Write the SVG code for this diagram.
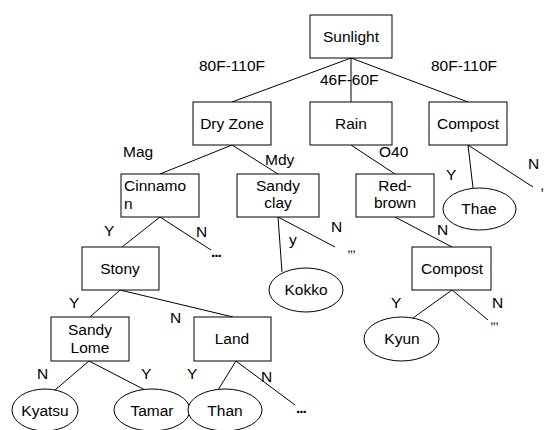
<svg xmlns="http://www.w3.org/2000/svg" width="546" height="430" viewBox="0 0 546 430">
<style>
.b{fill:#fff;stroke:#000;stroke-width:1}
.l{stroke:#000;stroke-width:1;fill:none}
text{font-family:"Liberation Sans",Arial,sans-serif;font-size:15.5px;fill:#000}
.c{text-anchor:middle}
.d{letter-spacing:-1px;font-weight:bold}
.k{letter-spacing:-1px;font-size:13px}
</style>
<rect width="546" height="430" fill="#fff"/>
<g id="connectors">
<line class="l" x1="351" y1="58" x2="232" y2="102"/>
<line class="l" x1="351" y1="58" x2="351" y2="102"/>
<line class="l" x1="351" y1="58" x2="468" y2="102"/>
<line class="l" x1="232" y1="145" x2="160" y2="174"/>
<line class="l" x1="232" y1="145" x2="278" y2="174"/>
<line class="l" x1="351" y1="145" x2="395" y2="174"/>
<line class="l" x1="468" y1="145" x2="473" y2="188"/>
<line class="l" x1="468" y1="145" x2="533" y2="187"/>
<line class="l" x1="160" y1="217" x2="122" y2="247"/>
<line class="l" x1="160" y1="217" x2="211" y2="250"/>
<line class="l" x1="278" y1="217" x2="282" y2="272"/>
<line class="l" x1="278" y1="217" x2="335" y2="247"/>
<line class="l" x1="395" y1="217" x2="452" y2="247"/>
<line class="l" x1="452" y1="290" x2="413" y2="318"/>
<line class="l" x1="452" y1="290" x2="488" y2="320"/>
<line class="l" x1="120" y1="290" x2="90" y2="317"/>
<line class="l" x1="120" y1="290" x2="233" y2="317"/>
<line class="l" x1="89" y1="361" x2="55" y2="390"/>
<line class="l" x1="89" y1="361" x2="145" y2="390"/>
<line class="l" x1="236" y1="361" x2="218" y2="390"/>
<line class="l" x1="236" y1="361" x2="295" y2="405"/>
</g>
<g id="edge-labels">
<text x="199" y="71">80F-110F</text>
<text x="320" y="85">46F-60F</text>
<text x="431" y="71">80F-110F</text>
<text x="123" y="157">Mag</text>
<text x="265" y="165">Mdy</text>
<text x="379" y="157">O40</text>
<text x="446" y="180">Y</text>
<text x="528" y="169">N</text>
<text x="540" y="190">,</text>
<text x="104" y="236">Y</text>
<text x="196" y="237">N</text>
<text class="d" x="211" y="257">...</text>
<text x="289" y="245">y</text>
<text x="331" y="232">N</text>
<text class="k" x="347" y="252">,,,</text>
<text x="437" y="235">N</text>
<text x="391" y="308">Y</text>
<text x="492" y="308">N</text>
<text class="k" x="490" y="324">,,,</text>
<text x="69" y="308">Y</text>
<text x="170" y="323">N</text>
<text x="37" y="379">N</text>
<text x="141" y="379">Y</text>
<text x="187" y="379">Y</text>
<text x="261" y="382">N</text>
<text class="d" x="296" y="413">...</text>
</g>
<g id="sunlight"><rect class="b" x="310" y="15" width="82" height="43"/><text class="c" x="351" y="42">Sunlight</text></g>
<g id="dryzone"><rect class="b" x="193" y="102" width="78" height="43"/><text class="c" x="232" y="129">Dry Zone</text></g>
<g id="rain"><rect class="b" x="310" y="102" width="82" height="43"/><text class="c" x="351" y="129">Rain</text></g>
<g id="compost1"><rect class="b" x="429" y="102" width="78" height="43"/><text class="c" x="468" y="129">Compost</text></g>
<g id="cinnamon"><rect class="b" x="121" y="174" width="78" height="43"/><text x="124" y="191">Cinnamo</text><text x="124" y="209">n</text></g>
<g id="sandyclay"><rect class="b" x="237" y="174" width="82" height="43"/><text class="c" x="278" y="191">Sandy</text><text class="c" x="278" y="208">clay</text></g>
<g id="redbrown"><rect class="b" x="356" y="174" width="78" height="43"/><text class="c" x="395" y="191">Red-</text><text class="c" x="395" y="208">brown</text></g>
<g id="thae"><ellipse class="b" cx="479.5" cy="209" rx="36.5" ry="21"/><text class="c" x="479" y="214">Thae</text></g>
<g id="kokko"><ellipse class="b" cx="306" cy="290" rx="37" ry="22"/><text class="c" x="306" y="295">Kokko</text></g>
<g id="compost2"><rect class="b" x="412" y="247" width="79" height="43"/><text class="c" x="452" y="274">Compost</text></g>
<g id="kyun"><ellipse class="b" cx="401.5" cy="339" rx="37.5" ry="22"/><text class="c" x="402" y="344">Kyun</text></g>
<g id="stony"><rect class="b" x="82" y="247" width="77" height="43"/><text class="c" x="120" y="274">Stony</text></g>
<g id="sandylome"><rect class="b" x="51" y="317" width="78" height="44"/><text class="c" x="90" y="335">Sandy</text><text class="c" x="90" y="353">Lome</text></g>
<g id="land"><rect class="b" x="194" y="317" width="77" height="44"/><text class="c" x="232" y="344">Land</text></g>
<g id="kyatsu"><ellipse class="b" cx="45" cy="410" rx="33" ry="21"/><text class="c" x="45" y="416">Kyatsu</text></g>
<g id="tamar"><ellipse class="b" cx="152" cy="410" rx="38" ry="21"/><text class="c" x="152" y="416">Tamar</text></g>
<g id="than"><ellipse class="b" cx="225" cy="410" rx="37" ry="21"/><text class="c" x="225" y="416">Than</text></g>
</svg>
